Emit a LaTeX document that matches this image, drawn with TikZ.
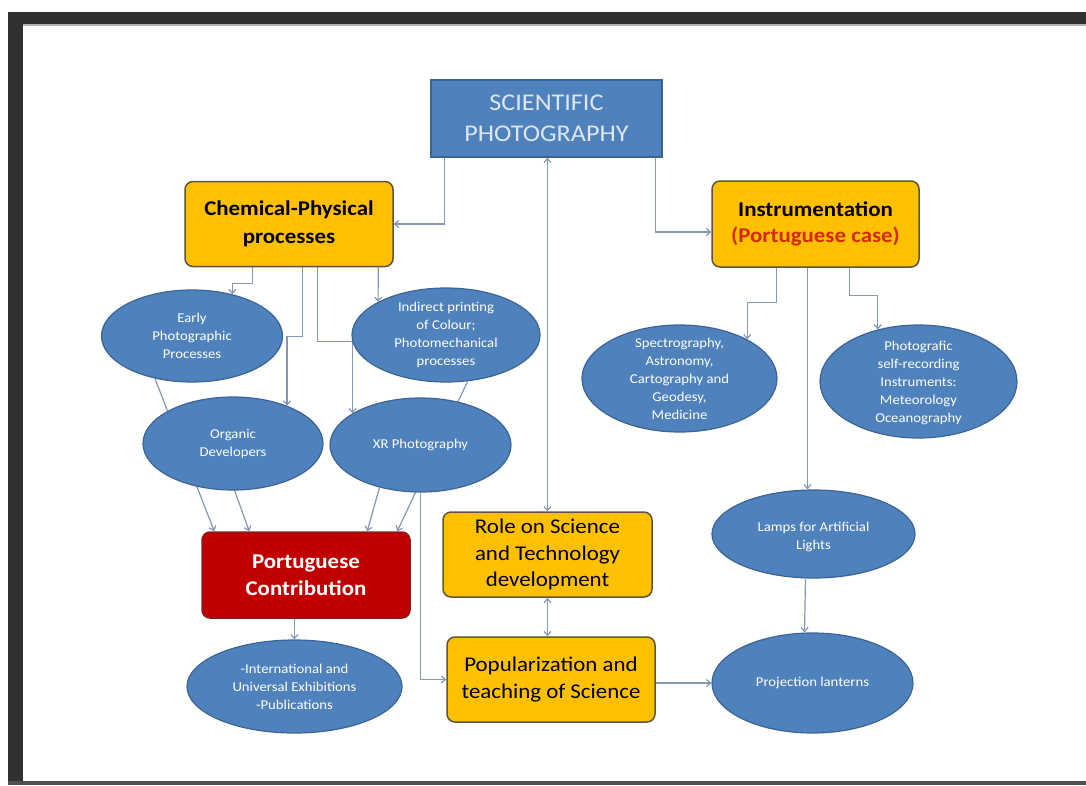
\documentclass[tikz,border=0pt]{standalone}
\usepackage{fontspec}
\setmainfont{Carlito}[FakeStretch=1.09]
\usetikzlibrary{shapes.geometric,arrows.meta,backgrounds}
\definecolor{ellblue}{HTML}{4F81BD}
\definecolor{ellline}{HTML}{3B6496}
\definecolor{boxfill}{HTML}{FFC000}
\definecolor{boxline}{HTML}{5E5540}
\definecolor{redfill}{HTML}{C00000}
\definecolor{redline}{HTML}{8C1C1C}
\definecolor{linec}{HTML}{8497B5}
\definecolor{casec}{HTML}{D42A00}
\definecolor{scitext}{HTML}{DDE7F3}
\definecolor{framec}{HTML}{303030}

\begin{document}
\begin{tikzpicture}[x=1pt,y=1pt,>={Straight Barb[length=4pt,width=7pt]}]
\tikzstyle{every node}+=[inner sep=0pt]
\tikzstyle{ell}=[ellipse,draw=ellline,fill=ellblue,line width=1.2pt]
\tikzstyle{elltxt}=[text=white,align=center,font=\fontsize{13.5}{18}\selectfont]
\tikzstyle{ybox}=[rectangle,rounded corners=8pt,draw=boxline,fill=boxfill,line width=1.5pt,align=center,font=\fontsize{21}{26.5}\selectfont]
\tikzstyle{conn}=[draw=linec,line width=1.2pt]
\useasboundingbox (0,0) rectangle (1086,-785);
\node [rectangle,draw=ellline,fill=ellblue,line width=1.2pt,minimum width=231pt,minimum height=77pt,text=scitext,align=center,font=\fontsize{24}{31}\selectfont] (sci) at (546.5,-118.5) {SCIENTIFIC\\PHOTOGRAPHY};
\node [ybox,minimum width=208pt,minimum height=85pt,font=\fontsize{21}{28}\selectfont\bfseries] (chem) at (289,-224) {Chemical-Physical\\processes};
\node [ybox,minimum width=207pt,minimum height=86pt,font=\fontsize{21}{26.5}\selectfont\bfseries] (instr) at (815.5,-224) {Instrumentation\\\textcolor{casec}{(Portuguese case)}};
\node [ell,minimum width=181pt,minimum height=92pt] (early) at (192,-336) {};
\node [elltxt] (earlyt) at (early) {Early\\Photographic\\Processes};
\node [ell,minimum width=188pt,minimum height=94pt] (indirect) at (446,-335) {};
\node [elltxt] (indirectt) at (indirect) {Indirect printing\\of Colour;\\Photomechanical\\processes};
\node [ell,minimum width=180pt,minimum height=93pt] (organic) at (233,-443.5) {};
\node [elltxt] (organict) at (organic) {Organic\\Developers};
\node [ell,minimum width=181pt,minimum height=94pt] (xr) at (420.5,-445) {};
\node [elltxt] (xrt) at (xr) {XR Photography};
\node [ell,minimum width=195pt,minimum height=107pt] (spectro) at (679.5,-378.5) {};
\node [elltxt] (spectrot) at (spectro) {Spectrography,\\Astronomy,\\Cartography and\\Geodesy,\\Medicine};
\node [ell,minimum width=197pt,minimum height=113pt] (photo) at (918.5,-381.5) {};
\node [elltxt] (photot) at ([yshift=-1.5pt]photo) {Photografic\\self-recording\\Instruments:\\Meteorology\\Oceanography};
\node [ell,minimum width=203pt,minimum height=88pt] (lamps) at (813.5,-534) {};
\node [elltxt] (lampst) at ([yshift=-3pt]lamps) {Lamps for Artificial\\Lights};
\node [ell,minimum width=201pt,minimum height=100pt] (proj) at (812.5,-683) {};
\node [elltxt] (projt) at (proj) {Projection lanterns};
\node [ybox,draw=redline,fill=redfill,text=white,minimum width=208pt,minimum height=86pt,font=\fontsize{21}{27}\selectfont\bfseries] (pc) at (306,-575) {Portuguese\\Contribution};
\node [ell,minimum width=215pt,minimum height=93pt] (intl) at (294.5,-686.5) {};
\node [elltxt] (intlt) at (intl) {-International and\\Universal Exhibitions\\-Publications};
\node [ybox,minimum width=209pt,minimum height=85pt] (role) at (547.5,-554.5) {Role on Science\\and Technology\\development};
\node [ybox,minimum width=208pt,minimum height=85pt] (pop) at (551,-679.5) {Popularization and\\teaching of Science};
\begin{pgfonlayer}{background}
\fill [white] (0,0) rectangle (1086,-785);
\fill [framec] (8,-12) rectangle (1086,-24);
\fill [gray!60] (23,-24) rectangle (1086,-26);
\fill [framec] (8,-12) rectangle (23,-785);
\fill [framec!85] (8,-781) rectangle (1086,-785);
\draw [conn,->] ([xshift=14pt]sci.south west) |- (chem.east);
\draw [conn,->] ([xshift=-7pt]sci.south east) |- ([yshift=-8pt]instr.west);
\draw [conn,<->] (role.north |- sci.south) -- (role.north);
\draw [conn,<->] (role.south) -- (role.south |- pop.north);
\draw [conn,->] ([xshift=68pt]chem.south west) -- ++(0,-16) -| (early.46);
\draw [conn,->] ([xshift=118pt]chem.south west) -- ++(0,-69) -| (organic.35);
\draw [conn,->] ([xshift=133pt]chem.south west) -- ++(0,-74) -| (xr.155);
\draw [conn,->] ([xshift=194pt]chem.south west) -- (indirect.154);
\draw [conn,->] (early.229) -- ([xshift=13pt]pc.north west);
\draw [conn,->] (organic.272) -- ([xshift=48pt]pc.north west);
\draw [conn,->] (xr.226) -- ([xshift=166pt]pc.north west);
\draw [conn,->] (indirect.295) -- ([xshift=196pt]pc.north west);
\draw [conn,->] (xr.south) |- (pop.west);
\draw [conn,->] (intl.north |- pc.south) -- (intl.north);
\draw [conn,->] ([xshift=65pt]instr.south west) -- ++(0,-35) -| (spectro.30);
\draw [conn,->] ([xshift=138pt]instr.south west) -- ++(0,-28) -| (photo.128);
\draw [conn,->] ([xshift=-6pt]lamps.north |- instr.south) -- ([xshift=-6pt]lamps.north);
\draw [conn,->] ([xshift=-8pt]lamps.south) -- ([xshift=-8pt]proj.north);
\draw [conn,->] (pop.east |- proj.west) -- (proj.west);
\end{pgfonlayer}
\end{tikzpicture}
\end{document}
